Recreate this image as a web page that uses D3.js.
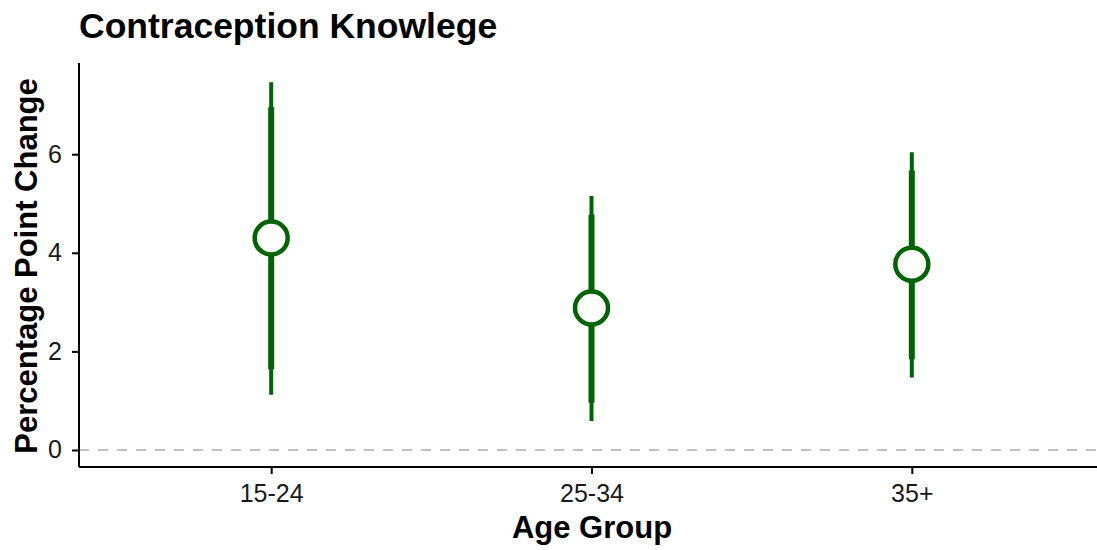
<!DOCTYPE html>
<html>
<head>
<meta charset="utf-8">
<script src="https://cdn.jsdelivr.net/npm/d3@7"></script>
<style>
  body { margin: 0; background: #fff; }
  text { font-family: "Liberation Sans", Arial, sans-serif; }
</style>
</head>
<body>
<svg id="chart" width="1097" height="550"></svg>
<script>
// data
const groups = ['15-24', '25-34', '35+'];
const estimate = [4.30, 2.88, 3.77];
const inner_lo = [1.64, 0.96, 1.84];
const inner_hi = [6.95, 4.77, 5.67];
const outer_lo = [1.12, 0.59, 1.47];
const outer_hi = [7.46, 5.15, 6.04];
const yTicks = [0, 2, 4, 6];

const svg = d3.select('#chart');
const margin = { top: 63, right: 0, bottom: 83, left: 79 };
const width = 1097, height = 550;
const green = '#006400';

const x = d3.scalePoint()
  .domain(groups)
  .range([margin.left, 1104])
  .padding(0.6);

const y = d3.scaleLinear()
  .domain([-0.345, 7.85])
  .range([height - margin.bottom, margin.top]);

const rows = groups.map((g, i) => ({
  g, est: estimate[i], ilo: inner_lo[i], ihi: inner_hi[i], olo: outer_lo[i], ohi: outer_hi[i]
}));

// zero reference line
svg.append('line')
  .attr('x1', margin.left).attr('x2', width)
  .attr('y1', y(0)).attr('y2', y(0))
  .attr('stroke', '#c0c0c0')
  .attr('stroke-width', 2)
  .attr('stroke-dasharray', '10,9');

// outer (thin) intervals
svg.selectAll('.outer').data(rows).enter().append('line')
  .attr('x1', d => x(d.g)).attr('x2', d => x(d.g))
  .attr('y1', d => y(d.olo)).attr('y2', d => y(d.ohi))
  .attr('stroke', green).attr('stroke-width', 4);

// inner (thick) intervals
svg.selectAll('.inner').data(rows).enter().append('line')
  .attr('x1', d => x(d.g)).attr('x2', d => x(d.g))
  .attr('y1', d => y(d.ilo)).attr('y2', d => y(d.ihi))
  .attr('stroke', green).attr('stroke-width', 6);

// point estimates
svg.selectAll('.pt').data(rows).enter().append('circle')
  .attr('cx', d => x(d.g)).attr('cy', d => y(d.est))
  .attr('r', 16.5)
  .attr('fill', 'white')
  .attr('stroke', green)
  .attr('stroke-width', 4.5);

// axes
const yAxis = svg.append('g')
  .attr('transform', `translate(${margin.left},0)`)
  .call(d3.axisLeft(y).tickValues(yTicks).tickSize(7).tickPadding(10));
yAxis.select('.domain').attr('d', `M0,${margin.top}V${height - margin.bottom}`).attr('stroke-width', 2);
yAxis.selectAll('.tick line').attr('stroke-width', 2);
yAxis.selectAll('.tick text').attr('font-size', 25).attr('fill', '#1a1a1a');

const xAxis = svg.append('g')
  .attr('transform', `translate(0,${height - margin.bottom})`)
  .call(d3.axisBottom(x).tickSize(7).tickPadding(10));
xAxis.select('.domain').attr('d', `M${margin.left},0H${width}`).attr('stroke-width', 2);
xAxis.selectAll('.tick line').attr('stroke-width', 2);
xAxis.selectAll('.tick text').attr('font-size', 25).attr('fill', '#1a1a1a');

// titles
svg.append('text')
  .attr('x', 79).attr('y', 38)
  .attr('font-size', 35.5).attr('font-weight', 'bold')
  .text('Contraception Knowlege');

svg.append('text')
  .attr('x', 592).attr('y', 538)
  .attr('text-anchor', 'middle')
  .attr('font-size', 31).attr('font-weight', 'bold')
  .text('Age Group');

svg.append('text')
  .attr('transform', `translate(37,266) rotate(-90)`)
  .attr('text-anchor', 'middle')
  .attr('font-size', 31).attr('font-weight', 'bold')
  .text('Percentage Point Change');
</script>
</body>
</html>
